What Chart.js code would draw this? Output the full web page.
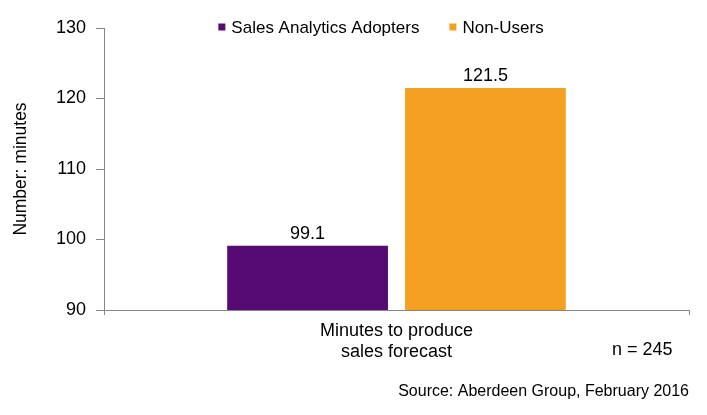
<!DOCTYPE html>
<html>
<head>
<meta charset="utf-8">
<script src="https://cdn.jsdelivr.net/npm/chart.js@4.4.1/dist/chart.umd.min.js"></script>
<style>
  html, body { margin: 0; padding: 0; background: #fff; }
  #wrap { width: 707px; height: 415px; }
</style>
</head>
<body>
<div id="wrap"><canvas id="chart" width="707" height="415"></canvas></div>
<script>
// chart data
const categories = [['Minutes to produce', 'sales forecast']];
const seriesNames = ['Sales Analytics Adopters', 'Non-Users'];
const adopters = [99.1];
const nonUsers = [121.5];
const seriesColors = ['#560b74', '#f5a021'];
const yTicks = [90, 100, 110, 120, 130];
const sampleNote = 'n = 245';
const sourceNote = 'Source: Aberdeen Group, February 2016';

const FONT = 'Arial, "Liberation Sans", sans-serif';

// value labels above each bar
const barLabels = {
    id: 'barLabels',
    afterDatasetsDraw(chart) {
        const ctx = chart.ctx;
        ctx.save();
        ctx.font = '18px ' + FONT;
        ctx.fillStyle = '#000';
        ctx.textAlign = 'center';
        ctx.textBaseline = 'alphabetic';
        chart.data.datasets.forEach((ds, i) => {
            chart.getDatasetMeta(i).data.forEach((bar, j) => {
                ctx.fillText(ds.data[j].toFixed(1), bar.x, bar.y - 7);
            });
        });
        ctx.restore();
    }
};

// legend drawn over the top of the plot, plus the notes
const extras = {
    id: 'extras',
    afterDraw(chart) {
        const ctx = chart.ctx;
        ctx.save();
        ctx.font = '17px ' + FONT;
        ctx.textBaseline = 'middle';
        ctx.fillStyle = '#000';
        const gap = 30, box = 7;
        const widths = chart.data.datasets.map(ds => box + 6 + ctx.measureText(ds.label).width);
        const total = widths.reduce((a, b) => a + b, 0) + gap;
        let x = 381 - total / 2;
        const y = 27;
        chart.data.datasets.forEach((ds, i) => {
            ctx.fillStyle = ds.backgroundColor;
            ctx.fillRect(x, y - box / 2, box, box);
            ctx.fillStyle = '#000';
            ctx.textAlign = 'left';
            ctx.fillText(ds.label, x + box + 6, y + 1);
            x += widths[i] + gap;
        });
        ctx.font = '18px ' + FONT;
        ctx.textAlign = 'left';
        ctx.fillText(sampleNote, 612, 350);
        ctx.font = '16px ' + FONT;
        ctx.textAlign = 'right';
        ctx.fillText(sourceNote, 689, 392);
        ctx.restore();
    }
};

new Chart(document.getElementById('chart'), {
    type: 'bar',
    data: {
        labels: categories,
        datasets: [
            { label: seriesNames[0], data: adopters, backgroundColor: seriesColors[0] },
            { label: seriesNames[1], data: nonUsers, backgroundColor: seriesColors[1] }
        ]
    },
    options: {
        responsive: false,
        animation: false,
        layout: { padding: { top: 28, right: 18, left: 0, bottom: 0 } },
        datasets: { bar: { categoryPercentage: 0.608, barPercentage: 0.904 } },
        plugins: {
            legend: { display: false },
            tooltip: { enabled: false }
        },
        scales: {
            x: {
                grid: { drawOnChartArea: false, color: '#868686', tickLength: 5, offset: true },
                border: { color: '#868686', width: 1 },
                ticks: { color: '#000', font: { size: 18, family: FONT }, padding: 5 },
                afterFit(scale) { scale.height = 105; }
            },
            y: {
                min: 90,
                max: 130,
                afterBuildTicks(scale) { scale.ticks = yTicks.map(v => ({ value: v })); },
                grid: { drawOnChartArea: false, color: '#868686', tickLength: 8 },
                border: { color: '#868686', width: 1 },
                ticks: { color: '#000', font: { size: 18, family: FONT }, padding: 10 },
                title: {
                    display: true,
                    text: 'Number: minutes',
                    color: '#000',
                    font: { size: 17.5, family: FONT },
                    padding: { top: 11, bottom: 0 }
                },
                afterFit(scale) { scale.width = 104; }
            }
        }
    },
    plugins: [barLabels, extras]
});
</script>
</body>
</html>
